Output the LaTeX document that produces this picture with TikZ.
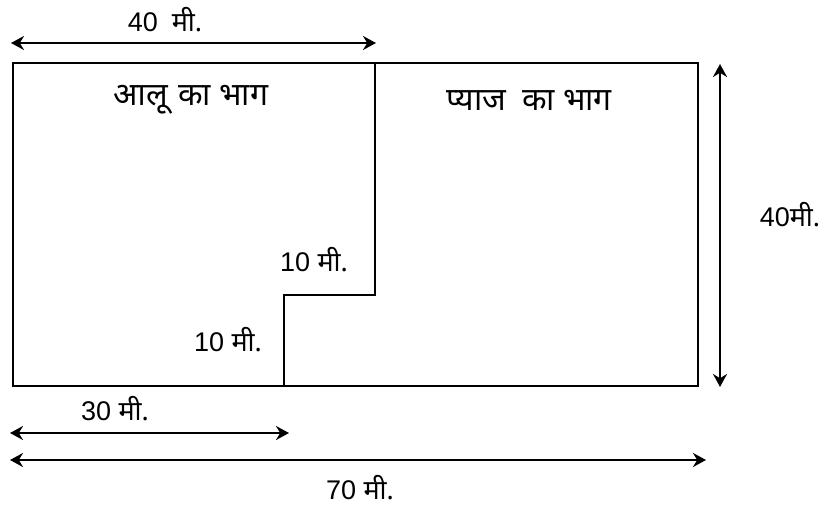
\documentclass[tikz,border=0pt]{standalone}
\usepackage{fontspec}
\setmainfont{Liberation Sans}
\newfontfamily\hindi[Script=Devanagari]{Noto Sans}
\usetikzlibrary{arrows.meta,positioning}
\newcommand{\mee}{{\hindi मी.}}

\begin{document}
\begin{tikzpicture}[x=1pt,y=-1pt]
			\tikzstyle{Wall}	= [line width=2.8pt, line join=miter]
			\tikzstyle{Dim}		= [line width=2.8pt, {Stealth[length=13pt,width=14pt]}-{Stealth[length=13pt,width=14pt]}]
			\tikzstyle{Label}	= [font=\fontsize{27}{32}\selectfont, inner sep=0pt]
			\tikzstyle{Plot}	= [font=\hindi\fontsize{32}{38}\selectfont, inner sep=0pt]
			
			\useasboundingbox (0,0) rectangle (826,508);
			
			\coordinate (tl) at (13,63);
			\coordinate (tr) at (698,63);
			\coordinate (br) at (698,386);
			\coordinate (bl) at (13,386);
			\coordinate (s1) at (375,63);
			\coordinate (s2) at (375,295);
			\coordinate (s3) at (284,295);
			\coordinate (s4) at (284,386);
			
			\draw [Wall] (tl) -- (tr) -- (br) -- (bl) -- cycle;
			\draw [Wall] (s1) -- (s2) -- (s3) -- (s4);
			
			\coordinate (a40l) at (11,43);
			\coordinate (a40r) at (376,43);
			\coordinate (a30l) at (10,433);
			\coordinate (a30r) at (289,433);
			\coordinate (a70l) at (10,460);
			\coordinate (a70r) at (706,460);
			\coordinate (h40t) at (720,64);
			\coordinate (h40b) at (720,387);
			
			\draw [Dim] (a40l) to (a40r);
			\draw [Dim] (a30l) to (a30r);
			\draw [Dim] (a70l) to (a70r);
			\draw [Dim] (h40t) to (h40b);
			
			\node (potato) at (191,100) [Plot] {आलू\hspace{10pt}का\hspace{8pt}भाग};
			\node (onion) at (529,100) [Plot] {प्याज\hspace{16pt}का\hspace{8pt}भाग};
			
			\node (w40) at (165,20) [Label] {40\hspace{14pt}\mee};
			\node (w30) at (115,409) [Label] {30 \mee};
			\node (w70) at (360,488) [Label] {70 \mee};
			\node (h40) at (790,215) [Label] {40\mee};
			\node (step1) at (314,260) [Label] {10 \mee};
			\node (step2) at (228,340) [Label] {10 \mee};
			
		\end{tikzpicture}
\end{document}
